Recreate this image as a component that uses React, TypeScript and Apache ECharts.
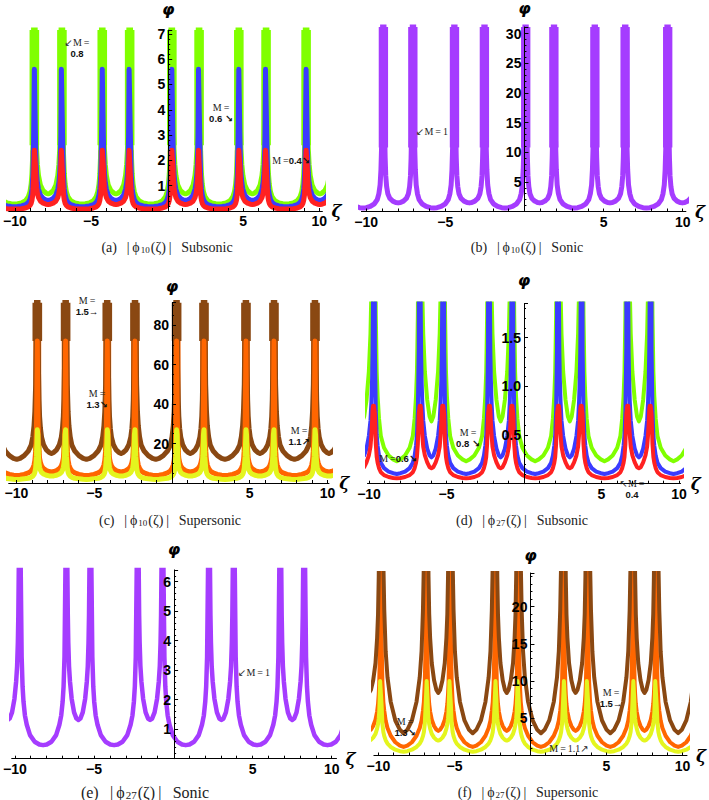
import React, { useEffect, useRef } from "react";
import * as echarts from "echarts";

// Fractions of a valley's width (measured from a peak toward the valley centre) at which the profiles below were read
const VALLEY_FRACTIONS = [0, 0.02, 0.04, 0.06, 0.08, 0.11, 0.15, 0.22, 0.32, 0.42, 0.5];

// x-axis tick labels and tick marks (all panels)
const X_LABELS = [-10, -5, 5, 10];
const X_TICKS = [-10, -9, -8, -7, -6, -5, -4, -3, -2, -1, 1, 2, 3, 4, 5, 6, 7, 8, 9, 10];

// ---------- (a) |phi10| subsonic : M = 0.8 (green), 0.6 (blue), 0.4 (red)
const PEAKS_A = [-11.35, -8.72, -6.91, -4.26, -2.46, 0.31, 2.1, 4.71, 6.5, 9.13, 10.93];
const A_Y_LABELS = [1, 2, 3, 4, 5, 6, 7];
const A_GREEN_WIDE = [300, 4.5, 2.25, 1.46, 1.06, 0.76, 0.56, 0.41, 0.32, 0.29, 0.28];
const A_GREEN_NARROW = [300, 9.5, 4.8, 3.26, 2.45, 1.84, 1.4, 1.02, 0.8, 0.71, 0.68];
const A_BLUE_WIDE = [5.6, 2.7, 1.36, 0.88, 0.65, 0.46, 0.34, 0.25, 0.2, 0.175, 0.17];
const A_BLUE_NARROW = [5.6, 5.6, 2.94, 2.0, 1.5, 1.13, 0.86, 0.63, 0.5, 0.44, 0.42];
const A_RED_WIDE = [2.4, 1.3, 0.64, 0.42, 0.3, 0.22, 0.16, 0.12, 0.092, 0.083, 0.08];
const A_RED_NARROW = [2.4, 2.4, 1.8, 1.25, 0.94, 0.7, 0.53, 0.39, 0.31, 0.27, 0.26];
// dense bands at the peaks: [from, to]
const A_GREEN_BAND = [2.6, 7.15];
const A_BLUE_BAND = [1.3, 5.6];
const A_BLUE_STRIPE = [3.2, 5.5];
const A_RED_BAND = [1.2, 2.4];

// ---------- (b) |phi10| sonic : M = 1
const PEAKS_B = [-11.5, -8.91, -7.05, -4.42, -2.53, 0.08, 1.86, 4.45, 6.36, 9.05, 10.9];
const B_Y_LABELS = [5, 10, 15, 20, 25, 30];
const B_PURPLE_WIDE = [300, 25, 12, 7, 4.5, 3.0, 2.0, 1.3, 0.85, 0.65, 0.6];
const B_PURPLE_NARROW = [300, 25, 14, 9, 6, 4.2, 3.0, 2.2, 1.75, 1.52, 1.45];
const B_PURPLE_BAND = [10.8, 31.1];
const B_PURPLE_STRIPE = [21, 31.1];

// ---------- (c) |phi10| supersonic : M = 1.5 (brown), 1.3 (orange), 1.1 (yellow)
const PEAKS_C = [-11.3, -8.66, -6.84, -4.16, -2.38, 0.3, 2.06, 4.76, 6.56, 9.2, 11.0];
const C_Y_LABELS = [20, 40, 60, 80];
const C_BROWN_WIDE = [300, 90, 50, 36, 29, 23.4, 19.2, 16.2, 13.9, 12.5, 12];
const C_BROWN_NARROW = [300, 105, 58, 42, 33.8, 27.8, 23.3, 19.5, 16.8, 15.5, 15];
const C_ORANGE_WIDE = [72, 28.5, 16, 11.4, 9.1, 7.4, 6.1, 5.1, 4.4, 3.95, 3.8];
const C_ORANGE_NARROW = [72, 39, 21.8, 15.7, 12.6, 10.4, 8.7, 7.3, 6.3, 5.8, 5.6];
const C_YELLOW_WIDE = [27, 13.5, 7.6, 5.4, 4.3, 3.5, 2.9, 2.4, 2.1, 1.87, 1.8];
const C_YELLOW_NARROW = [27, 24.5, 13.7, 9.8, 7.9, 6.5, 5.4, 4.55, 3.9, 3.6, 3.5];
const C_BROWN_BAND = [72, 91.5];
const C_ORANGE_BAND = [27, 72];
const C_ORANGE_STRIPE = [34, 72];
const C_YELLOW_BAND = [14, 27];

// ---------- (d) |phi27| subsonic : M = 0.8 (green), 0.6 (blue), 0.4 (red)
const PEAKS_D = [-11.18, -9.68, -6.73, -5.21, -2.26, -0.75, 2.19, 3.72, 6.66, 8.17, 11.12];
const D_Y_LABELS = [0.5, 1.0, 1.5];
const D_GREEN_WIDE = [300, 3.2, 1.73, 1.15, 0.9, 0.67, 0.49, 0.37, 0.29, 0.25, 0.23];
const D_GREEN_NARROW = [300, 8.3, 4.6, 3.2, 2.56, 1.98, 1.54, 1.15, 0.86, 0.69, 0.64];
const D_BLUE_WIDE = [300, 1.4, 0.75, 0.5, 0.39, 0.29, 0.215, 0.16, 0.125, 0.108, 0.1];
const D_BLUE_NARROW = [300, 3.5, 1.94, 1.35, 1.08, 0.84, 0.65, 0.49, 0.36, 0.29, 0.27];
const D_RED_WIDE = [0.8, 0.72, 0.41, 0.275, 0.215, 0.16, 0.118, 0.088, 0.069, 0.059, 0.055];
const D_RED_NARROW = [0.8, 0.8, 0.8, 0.76, 0.64, 0.5, 0.38, 0.29, 0.22, 0.17, 0.16];

// ---------- (e) |phi27| sonic : M = 1
const PEAKS_E = [-11.22, -9.69, -6.75, -5.23, -2.25, -0.68, 2.25, 3.82, 6.75, 8.26, 11.2];
const E_Y_LABELS = [1, 2, 3, 4, 5, 6];
const E_PURPLE_WIDE = [300, 6.4, 3.45, 2.44, 1.93, 1.47, 1.15, 0.8, 0.575, 0.48, 0.46];
const E_PURPLE_NARROW = [300, 11.1, 6.55, 4.85, 3.93, 3.14, 2.62, 2.03, 1.57, 1.36, 1.31];
const E_PURPLE_STRIPE = [4.0, 6.4];

// ---------- (f) |phi27| supersonic : M = 1.5 (brown), 1.3 (orange), 1.1 (yellow)
const PEAKS_F = [-11.38, -9.86, -6.83, -5.3, -2.3, -0.82, 2.2, 3.74, 6.77, 8.24, 11.2];
const F_Y_LABELS = [5, 10, 15, 20, 25];
const F_BROWN_WIDE = [300, 60, 38, 26, 19.5, 14, 10.5, 7.2, 4.7, 3.45, 3.0];
const F_BROWN_NARROW = [300, 70, 42, 30, 24, 19, 15.8, 12.4, 10.1, 8.8, 8.4];
const F_ORANGE_WIDE = [300, 16, 9.8, 7.2, 6.0, 4.7, 3.7, 2.65, 1.78, 1.32, 1.15];
const F_ORANGE_NARROW = [300, 19.8, 12.5, 9.6, 8.25, 6.9, 5.9, 4.8, 3.96, 3.47, 3.3];
const F_YELLOW_WIDE = [10, 7, 4.25, 3.15, 2.6, 2.05, 1.6, 1.15, 0.78, 0.58, 0.5];
const F_YELLOW_NARROW = [10, 10, 7.6, 5.8, 5.0, 4.2, 3.6, 2.9, 2.4, 2.1, 2.0];

// ---------- styling
const COL = {
  green: "#80ff00",
  blue: "#3b3bff",
  red: "#ff2121",
  purple: "#a53cff",
  brown: "#8a4812",
  orange: "#ff6600",
  yellow: "#e4f51e",
};

const PANELS = [
  {
    peaks: PEAKS_A, xMin: -10.4, xMax: 10.2, yMax: 7.15, yInterval: 1, minorSplit: 5, yLabels: A_Y_LABELS, dec: 0,
    lineWidth: 5,
    grid: { left: 6.6, top: 30.1, width: 315.8, height: 180.9 }, phiGap: 13,
    curves: [
      { color: COL.green, wide: A_GREEN_WIDE, narrow: A_GREEN_NARROW },
      { color: COL.blue, wide: A_BLUE_WIDE, narrow: A_BLUE_NARROW },
      { color: COL.red, wide: A_RED_WIDE, narrow: A_RED_NARROW },
    ],
    bands: [
      { color: COL.green, range: A_GREEN_BAND, w: 0.63 },
      { color: COL.blue, range: A_BLUE_BAND, w: 0.4, stripe: A_BLUE_STRIPE, stripeColor: "rgba(200,210,255,0.75)" },
      { color: COL.red, range: A_RED_BAND, w: 0.52 },
    ],
  },
  {
    peaks: PEAKS_B, xMin: -10.3, xMax: 10.2, yMax: 31.1, yInterval: 5, minorSplit: 5, yLabels: B_Y_LABELS, dec: 0,
    lineWidth: 5,
    grid: { left: 361.4, top: 24.9, width: 324.5, height: 186.6 }, phiGap: 11,
    curves: [{ color: COL.purple, wide: B_PURPLE_WIDE, narrow: B_PURPLE_NARROW }],
    bands: [
      { color: COL.purple, range: B_PURPLE_BAND, w: 0.59, stripe: B_PURPLE_STRIPE, stripeColor: "rgba(235,215,255,0.9)" },
    ],
  },
  {
    peaks: PEAKS_C, xMin: -10.5, xMax: 10.1, yMax: 91.5, yInterval: 20, minorSplit: 4, yLabels: C_Y_LABELS, dec: 0,
    lineWidth: 5,
    grid: { left: 8.7, top: 302.6, width: 320.3, height: 180.4 }, phiGap: 8,
    curves: [
      { color: COL.brown, wide: C_BROWN_WIDE, narrow: C_BROWN_NARROW },
      { color: COL.orange, wide: C_ORANGE_WIDE, narrow: C_ORANGE_NARROW },
      { color: COL.yellow, wide: C_YELLOW_WIDE, narrow: C_YELLOW_NARROW },
    ],
    bands: [
      { color: COL.brown, range: C_BROWN_BAND, w: 0.62 },
      { color: COL.orange, range: C_ORANGE_BAND, w: 0.5, stripe: C_ORANGE_STRIPE, stripeColor: "rgba(255,240,220,0.9)" },
      { color: COL.yellow, range: C_YELLOW_BAND, w: 0.56 },
    ],
  },
  {
    peaks: PEAKS_D, xMin: -10.1, xMax: 10.1, yMax: 1.85, yInterval: 0.5, minorSplit: 5, yLabels: D_Y_LABELS, dec: 1,
    lineWidth: 4,
    grid: { left: 367.45, top: 303.6, width: 313.1, height: 180.1 }, phiGap: 15,
    curves: [
      { color: COL.green, wide: D_GREEN_WIDE, narrow: D_GREEN_NARROW },
      { color: COL.blue, wide: D_BLUE_WIDE, narrow: D_BLUE_NARROW },
      { color: COL.red, wide: D_RED_WIDE, narrow: D_RED_NARROW },
    ],
    bands: [],
  },
  {
    peaks: PEAKS_E, xMin: -10.2, xMax: 10.3, yMax: 6.4, yInterval: 1, minorSplit: 5, yLabels: E_Y_LABELS, dec: 0,
    lineWidth: 4.5,
    grid: { left: 10.1, top: 569.9, width: 326.4, height: 188.8 }, phiGap: 12,
    curves: [{ color: COL.purple, wide: E_PURPLE_WIDE, narrow: E_PURPLE_NARROW }],
    bands: [{ color: COL.purple, range: E_PURPLE_STRIPE, w: 0, stripe: E_PURPLE_STRIPE, stripeColor: "rgba(255,255,255,0.85)" }],
  },
  {
    peaks: PEAKS_F, xMin: -10.3, xMax: 10.3, yMax: 24.5, yInterval: 5, minorSplit: 5, yLabels: F_Y_LABELS, dec: 0,
    lineWidth: 4,
    grid: { left: 373.9, top: 573, width: 313.1, height: 182.5 }, phiGap: 10,
    curves: [
      { color: COL.orange, wide: F_ORANGE_WIDE, narrow: F_ORANGE_NARROW },
      { color: COL.yellow, wide: F_YELLOW_WIDE, narrow: F_YELLOW_NARROW },
      { color: COL.brown, wide: F_BROWN_WIDE, narrow: F_BROWN_NARROW },
    ],
    bands: [],
  },
];

const CAPTIONS = [
  { letter: "a", sub: "10", kind: "Subsonic", x: 167, y: 247, size: 14 },
  { letter: "b", sub: "10", kind: "Sonic", x: 527, y: 247, size: 14 },
  { letter: "c", sub: "10", kind: "Supersonic", x: 170, y: 520, size: 14 },
  { letter: "d", sub: "27", kind: "Subsonic", x: 522, y: 520, size: 14 },
  { letter: "e", sub: "27", kind: "Sonic", x: 145, y: 792, size: 16 },
  { letter: "f", sub: "27", kind: "Supersonic", x: 528, y: 792, size: 14 },
];

// M = ... annotations (text, centre position)
const NOTES = [
  { text: "{m|\u2199M\u2009=}\n{b|0.8}", x: 77, y: 48 },
  { text: "{m|M\u2009=}\n{b|0.6 \u2198}", x: 221, y: 113 },
  { text: "{m|M\u2009=}{b|0.4\u2198}", x: 291, y: 160 },
  { text: "{m|\u2199M\u2009=\u20091}", x: 432, y: 131 },
  { text: "{m|M\u2009=}\n{b|1.5\u2192}", x: 87, y: 306 },
  { text: "{m|M\u2009=}\n{b|1.3\u2198}", x: 97, y: 399 },
  { text: "{m|M\u2009=}\n{b|1.1\u2197}", x: 299, y: 436 },
  { text: "{m|M\u2009=}\n{b|0.8 \u2198}", x: 468, y: 438 },
  { text: "{m|M\u2009=}{b|0.6\u2198}", x: 398, y: 458 },
  { text: "{m|\u2196M\u2009=}\n{b|0.4}", x: 632, y: 489 },
  { text: "{m|\u2199M\u2009=\u20091}", x: 254, y: 672 },
  { text: "{m|M\u2009=}\n{b|1.5\u2192}", x: 611, y: 698 },
  { text: "{m|M\u2009=}\n{b|1.3\u2198}", x: 405, y: 727 },
  { text: "{m|M\u2009=\u20091.1\u2197}", x: 569, y: 748 },
];

function valleyLine(peaks: number[], wide: number[], narrow: number[]) {
  const pts: number[][] = [];
  for (let i = 0; i < peaks.length - 1; i++) {
    const a = peaks[i];
    const b = peaks[i + 1];
    const w = b - a;
    const prof = w > 2.2 ? wide : narrow;
    for (let k = 0; k < VALLEY_FRACTIONS.length; k++) pts.push([a + VALLEY_FRACTIONS[k] * w, prof[k]]);
    for (let k = VALLEY_FRACTIONS.length - 2; k >= 0; k--) pts.push([b - VALLEY_FRACTIONS[k] * w, prof[k]]);
  }
  return pts;
}

const fmtNum = (v: number, dec: number) => {
  const s = Math.abs(v).toFixed(dec);
  return v < 0 ? "\u2212" + s : s;
};

function buildOption() {
  const grid: any[] = [];
  const xAxis: any[] = [];
  const yAxis: any[] = [];
  const series: any[] = [];
  const graphic: any[] = [];

  PANELS.forEach((p, i) => {
    grid.push({ ...p.grid, containLabel: false });
    // move the y axis to zeta = 0 (Mathematica-style crossing axes)
    const zeroOffset = (-p.xMin / (p.xMax - p.xMin)) * p.grid.width;
    xAxis.push({
      gridIndex: i,
      type: "value",
      min: p.xMin,
      max: p.xMax,
      axisLine: { onZero: false, lineStyle: { color: "#000", width: 1 } },
      axisTick: { show: true, customValues: X_TICKS, inside: true, length: 3, lineStyle: { color: "#000" } },
      axisLabel: {
        customValues: X_LABELS,
        formatter: (v: number) => fmtNum(v, 0),
        color: "#000",
        fontWeight: "bold",
        fontSize: 14,
        fontFamily: "'Liberation Sans', Arial, sans-serif",
        margin: 3,
      },
      splitLine: { show: false },
      name: "\u03B6",
      nameLocation: "end",
      nameGap: 9,
      nameTextStyle: { fontStyle: "italic", fontWeight: "bold", fontSize: 17, color: "#000", fontFamily: "'DejaVu Serif', serif" },
      z: 10,
    });
    yAxis.push({
      gridIndex: i,
      type: "value",
      position: "left",
      offset: -zeroOffset,
      min: 0,
      max: p.yMax,
      interval: p.yInterval,
      axisLine: { onZero: false, lineStyle: { color: "#000", width: 1 } },
      axisTick: { show: true, inside: true, length: 4, lineStyle: { color: "#000" } },
      minorTick: { show: true, splitNumber: p.minorSplit, length: 2, lineStyle: { color: "#000" } },
      axisLabel: {
        formatter: (v: number) => (p.yLabels.some((l) => Math.abs(l - v) < 1e-9) ? fmtNum(v, p.dec) : ""),
        color: "#000",
        fontWeight: "bold",
        fontSize: 14,
        fontFamily: "'Liberation Sans', Arial, sans-serif",
        margin: 3,
      },
      splitLine: { show: false },
      name: "\u03C6",
      nameLocation: "end",
      nameGap: p.phiGap,
      nameTextStyle: { fontStyle: "italic", fontWeight: "bold", fontSize: 16, color: "#000", fontFamily: "'DejaVu Sans', sans-serif" },
      z: 10,
    });

    p.curves.forEach((c) => {
      series.push({
        type: "line",
        xAxisIndex: i,
        yAxisIndex: i,
        data: valleyLine(p.peaks, c.wide, c.narrow),
        showSymbol: false,
        symbol: "none",
        clip: true,
        silent: true,
        lineStyle: { color: c.color, width: p.lineWidth, join: "round", cap: "round" },
      });
    });

    const visiblePeaks = p.peaks.slice(1, -1);
    p.bands.forEach((bd: any) => {
      series.push({
        type: "custom",
        xAxisIndex: i,
        yAxisIndex: i,
        clip: true,
        silent: true,
        data: visiblePeaks.map((pk) => [pk, bd.range[0]]),
        renderItem: (params: any, api: any) => {
          const x = api.value(0);
          const children: any[] = [];
          if (bd.w > 0) {
            const bl = api.coord([x - bd.w / 2, bd.range[0]]);
            const tr = api.coord([x + bd.w / 2, bd.range[1]]);
            children.push({
              type: "rect",
              shape: { x: bl[0], y: tr[1], width: tr[0] - bl[0], height: bl[1] - tr[1] },
              style: { fill: bd.color },
            });
          }
          if (bd.stripe) {
            const s0 = api.coord([x, bd.stripe[0]]);
            const s1 = api.coord([x, bd.stripe[1]]);
            children.push({
              type: "rect",
              shape: { x: s0[0] - 0.7, y: s1[1], width: 1.4, height: s0[1] - s1[1] },
              style: { fill: bd.stripeColor },
            });
          }
          return { type: "group", children };
        },
      });
    });
  });

  CAPTIONS.forEach((c) => {
    graphic.push({
      type: "text",
      x: c.x,
      y: c.y,
      style: {
        text: `{t|(${c.letter})\u2002\u2009|\u2009\u03D5}{s|${c.sub}}{t|(\u03B6)\u2009|\u2002\u2009${c.kind}}`,
        align: "center",
        verticalAlign: "middle",
        rich: {
          t: { fontSize: c.size, fontFamily: "'Liberation Serif', 'DejaVu Serif', serif", fill: "#222" },
          s: { fontSize: c.size - 5, fontFamily: "'Liberation Serif', serif", fill: "#222", padding: [6, 1, 0, 1] },
        },
      },
    });
  });

  NOTES.forEach((n) => {
    graphic.push({
      type: "text",
      x: n.x,
      y: n.y,
      z: 20,
      style: {
        text: n.text,
        align: "center",
        verticalAlign: "middle",
        rich: {
          m: { fontSize: 10, fontFamily: "'Liberation Serif', 'DejaVu Sans', serif", fill: "#222", lineHeight: 11 },
          b: { fontSize: 9.5, fontWeight: "bold", fontFamily: "'Liberation Sans', 'DejaVu Sans', sans-serif", fill: "#111", lineHeight: 11 },
        },
      },
    });
  });

  return {
    animation: false,
    backgroundColor: "#ffffff",
    grid,
    xAxis,
    yAxis,
    series,
    graphic,
  };
}

export default function App() {
  const ref = useRef<HTMLDivElement>(null);
  useEffect(() => {
    if (!ref.current) return;
    const chart = echarts.init(ref.current, undefined, { renderer: "svg" });
    chart.setOption(buildOption() as any);
    return () => chart.dispose();
  }, []);
  return (
    <div
      ref={ref}
      style={{ position: "absolute", left: 0, top: 0, width: 709, height: 800, background: "#fff" }}
    />
  );
}
